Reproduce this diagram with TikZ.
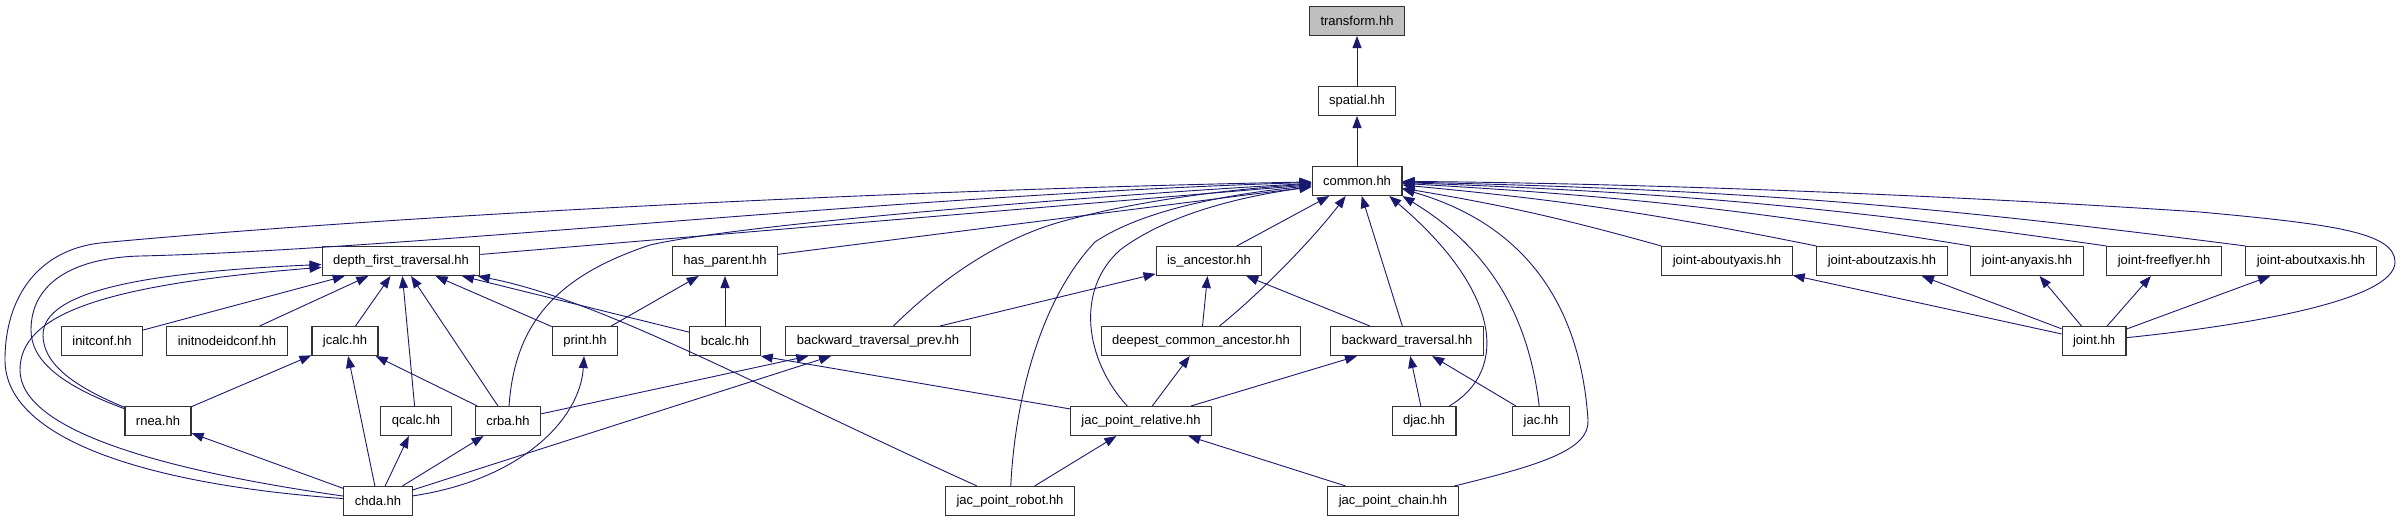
\documentclass[tikz,border=0pt]{standalone}
\usepackage{fontspec}
\setmainfont{Liberation Sans}
\usetikzlibrary{arrows.meta}
\definecolor{edgeblue}{RGB}{25,25,112}

\begin{document}
\begin{tikzpicture}[x=1pt,y=-1pt,
  hdr/.style={rectangle,draw=black!80,line width=1.1pt,fill=white,inner xsep=11pt,inner ysep=0pt,minimum height=29pt,font=\fontsize{13}{15}\selectfont},
  inc/.style={draw=edgeblue,line width=0.9pt,-{Triangle[length=12pt,width=9pt]}}]

\useasboundingbox[fill=white] (0,0) rectangle (2401,523);

\node[hdr,fill=black!25] (tf) at (1357,21) {transform.hh};
\node[hdr] (spatial) at (1357,101) {spatial.hh};
\node[hdr] (common) at (1357,181) {common.hh};

\node[hdr] (dft) at (401,261) {depth\_first\_traversal.hh};
\node[hdr] (hasparent) at (725,261) {has\_parent.hh};
\node[hdr] (isanc) at (1209,261) {is\_ancestor.hh};
\node[hdr] (jy) at (1727,261) {joint-aboutyaxis.hh};
\node[hdr] (jz) at (1882,261) {joint-aboutzaxis.hh};
\node[hdr] (jany) at (2027,261) {joint-anyaxis.hh};
\node[hdr] (jff) at (2164,261) {joint-freeflyer.hh};
\node[hdr] (jx) at (2311,261) {joint-aboutxaxis.hh};

\node[hdr] (initconf) at (102,341) {initconf.hh};
\node[hdr] (initnid) at (227,341) {initnodeidconf.hh};
\node[hdr] (jcalc) at (345,341) {jcalc.hh};
\node[hdr] (print) at (585,341) {print.hh};
\node[hdr] (bcalc) at (725,341) {bcalc.hh};
\node[hdr] (btprev) at (878,341) {backward\_traversal\_prev.hh};
\node[hdr] (dca) at (1201,341) {deepest\_common\_ancestor.hh};
\node[hdr] (bt) at (1407,341) {backward\_traversal.hh};
\node[hdr] (joint) at (2094,341) {joint.hh};

\node[hdr] (rnea) at (158,421) {rnea.hh};
\node[hdr] (qcalc) at (416,421) {qcalc.hh};
\node[hdr] (crba) at (508,421) {crba.hh};
\node[hdr] (jpr) at (1141,421) {jac\_point\_relative.hh};
\node[hdr] (djac) at (1424,421) {djac.hh};
\node[hdr] (jac) at (1541,421) {jac.hh};

\node[hdr] (chda) at (378,501) {chda.hh};
\node[hdr] (jprobot) at (1010,501) {jac\_point\_robot.hh};
\node[hdr] (jpchain) at (1393,501) {jac\_point\_chain.hh};

\draw[inc] (spatial) -- (tf);
\draw[inc] (common) -- (spatial);

\draw[inc] (dft) -- (common);
\draw[inc] (hasparent) -- (common);
\draw[inc] (isanc) -- (common);
\draw[inc] (bt) -- (common);
\draw[inc] (dca) .. controls (1270,285) and (1320,230) .. (common);
\draw[inc] (btprev) .. controls (920,300) and (980,245) .. (1060,222) .. controls (1150,197) and (1250,188) .. (common);
\draw[inc] (jpr) .. controls (1085,360) and (1075,290) .. (1120,250) .. controls (1170,212) and (1250,195) .. (common);
\draw[inc] (jprobot) .. controls (1015,400) and (1040,300) .. (1095,242) .. controls (1150,205) and (1250,192) .. (common);
\draw[inc] (crba) .. controls (515,320) and (560,275) .. (650,245) .. controls (750,222) and (1150,192) .. (common);
\draw[inc] (rnea) .. controls (60,385) and (31,360) .. (31,330) .. controls (31,285) and (70,258) .. (140,256) .. controls (400,250) and (900,195) .. (common);
\draw[inc] (chda) .. controls (150,485) and (5,440) .. (5,360) .. controls (5,295) and (40,250) .. (100,243) .. controls (400,215) and (900,190) .. (common);
\draw[inc] (djac) .. controls (1510,370) and (1500,290) .. (common.-25);
\draw[inc] (jac) .. controls (1530,330) and (1500,255) .. (common.south east);
\draw[inc] (jpchain) .. controls (1540,465) and (1590,450) .. (1588,420) .. controls (1582,330) and (1545,230) .. (common.-10);

\draw[inc] (jy.north west) to[bend right=3] (common);
\draw[inc] (jz.north west) to[bend right=3] (common);
\draw[inc] (jany.north west) to[bend right=3] (common);
\draw[inc] (jff.north west) to[bend right=3] (common);
\draw[inc] (jx.north west) to[bend right=3] (common);
\draw[inc] (joint) .. controls (2250,325) and (2395,300) .. (2395,262) .. controls (2395,232) and (2330,224) .. (2200,212) .. controls (1900,192) and (1600,183) .. (common);

\draw[inc] (joint) -- (jy);
\draw[inc] (joint) -- (jz);
\draw[inc] (joint) -- (jany);
\draw[inc] (joint) -- (jff);
\draw[inc] (joint) -- (jx);

\draw[inc] (initconf) -- (dft);
\draw[inc] (initnid) -- (dft);
\draw[inc] (jcalc) -- (dft);
\draw[inc] (qcalc) -- (dft);
\draw[inc] (crba) -- (dft);
\draw[inc] (print) -- (dft);
\draw[inc] (bcalc) -- (dft);
\draw[inc] (jprobot) .. controls (750,383) and (600,300) .. (dft);
\draw[inc] (rnea) .. controls (70,385) and (43,362) .. (43,335) .. controls (43,290) and (150,272) .. (dft);
\draw[inc] (chda) .. controls (160,470) and (20,430) .. (20,370) .. controls (20,315) and (100,285) .. (dft);

\draw[inc] (rnea) -- (jcalc);
\draw[inc] (chda) -- (jcalc);
\draw[inc] (crba) -- (jcalc);
\draw[inc] (chda) -- (rnea);
\draw[inc] (chda) -- (qcalc);
\draw[inc] (chda) -- (crba);
\draw[inc] (chda) .. controls (520,480) and (580,420) .. (print);
\draw[inc] (chda) -- (btprev);
\draw[inc] (crba) -- (btprev);

\draw[inc] (print) -- (hasparent);
\draw[inc] (bcalc) -- (hasparent);
\draw[inc] (jpr) -- (bcalc.south east);

\draw[inc] (btprev) -- (isanc);
\draw[inc] (dca) -- (isanc);
\draw[inc] (bt) -- (isanc);

\draw[inc] (jpr) -- (dca);
\draw[inc] (jpr) -- (bt);
\draw[inc] (djac) -- (bt);
\draw[inc] (jac) -- (bt);

\draw[inc] (jprobot) -- (jpr);
\draw[inc] (jpchain) -- (jpr);

\end{tikzpicture}
\end{document}
